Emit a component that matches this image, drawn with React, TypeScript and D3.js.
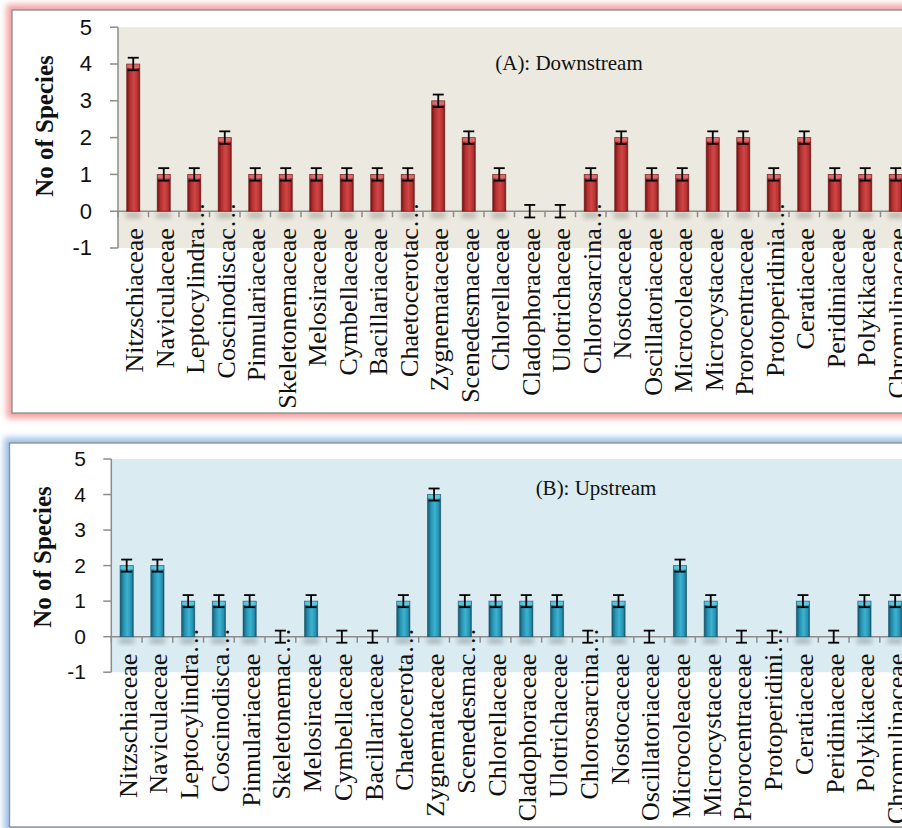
import React from "react";
import * as d3 from "d3";

const categories = [
  "Nitzschiaceae", "Naviculaceae", "Leptocylindraceae", "Coscinodiscaceae", "Pinnulariaceae",
  "Skeletonemaceae", "Melosiraceae", "Cymbellaceae", "Bacillariaceae", "Chaetocerotaceae",
  "Zygnemataceae", "Scenedesmaceae", "Chlorellaceae", "Cladophoraceae", "Ulotrichaceae",
  "Chlorosarcinaceae", "Nostocaceae", "Oscillatoriaceae", "Microcoleaceae", "Microcystaceae",
  "Prorocentraceae", "Protoperidiniaceae", "Ceratiaceae", "Peridiniaceae", "Polykikaceae",
  "Chromulinaceae",
];
const labelsDown = [
  "Nitzschiaceae", "Naviculaceae", "Leptocylindra…", "Coscinodiscac…", "Pinnulariaceae",
  "Skeletonemaceae", "Melosiraceae", "Cymbellaceae", "Bacillariaceae", "Chaetocerotac…",
  "Zygnemataceae", "Scenedesmaceae", "Chlorellaceae", "Cladophoraceae", "Ulotrichaceae",
  "Chlorosarcina…", "Nostocaceae", "Oscillatoriaceae", "Microcoleaceae", "Microcystaceae",
  "Prorocentraceae", "Protoperidinia…", "Ceratiaceae", "Peridiniaceae", "Polykikaceae",
  "Chromulinaceae",
];
const labelsUp = [
  "Nitzschiaceae", "Naviculaceae", "Leptocylindra…", "Coscinodisca…", "Pinnulariaceae",
  "Skeletonemac…", "Melosiraceae", "Cymbellaceae", "Bacillariaceae", "Chaetocerota…",
  "Zygnemataceae", "Scenedesmac…", "Chlorellaceae", "Cladophoraceae", "Ulotrichaceae",
  "Chlorosarcina…", "Nostocaceae", "Oscillatoriaceae", "Microcoleaceae", "Microcystaceae",
  "Prorocentraceae", "Protoperidini…", "Ceratiaceae", "Peridiniaceae", "Polykikaceae",
  "Chromulinaceae",
];
const valuesDown = [4, 1, 1, 2, 1, 1, 1, 1, 1, 1, 3, 2, 1, 0, 0, 1, 2, 1, 1, 2, 2, 1, 2, 1, 1, 1];
const valuesUp = [2, 2, 1, 1, 1, 0, 1, 0, 0, 1, 4, 1, 1, 1, 1, 0, 1, 0, 2, 1, 0, 0, 1, 0, 1, 1];
const errorValue = 0.17;
const yTicks = [-1, 0, 1, 2, 3, 4, 5];
const yTitle = "No of Species";
const titleDown = "(A): Downstream";
const titleUp = "(B): Upstream";

type PanelProps = {
  id: string;
  values: number[];
  labels: string[];
  title: string;
  box: { x: number; y: number; w: number; h: number };
  plot: { x0: number; band: number; yTop: number; yBottom: number };
  bg: string;
  glow: string;
  barDark: string;
  barMid: string;
  barLight: string;
  barTop: string;
  tickLabelRight: number;
  tickFont: number;
  titleX: number;
  titleY: number;
  yTitleX: number;
  yTitleY: number;
};

function Panel(p: PanelProps) {
  const n = categories.length;
  const x = d3
    .scaleBand<string>()
    .domain(categories)
    .range([p.plot.x0, p.plot.x0 + n * p.plot.band])
    .paddingInner(0)
    .paddingOuter(0);
  const y = d3.scaleLinear().domain([-1, 5]).range([p.plot.yBottom, p.plot.yTop]);
  const bw = x.bandwidth();
  const barW = bw * 0.43;
  const y0 = y(0);
  const plotRight = 1000;
  return (
    <g>
      <defs>
        <linearGradient id={`bar-${p.id}`} x1="0" x2="1" y1="0" y2="0">
          <stop offset="0%" stopColor={p.barDark} />
          <stop offset="25%" stopColor={p.barMid} />
          <stop offset="55%" stopColor={p.barLight} />
          <stop offset="85%" stopColor={p.barMid} />
          <stop offset="100%" stopColor={p.barDark} />
        </linearGradient>
        <filter id={`glow-${p.id}`} x="-10%" y="-10%" width="120%" height="120%">
          <feGaussianBlur stdDeviation="3" />
        </filter>
        <filter id={`shadow-${p.id}`} x="-50%" y="-50%" width="200%" height="200%">
          <feGaussianBlur stdDeviation="2.5" />
        </filter>
      </defs>
      {/* glow */}
      <rect
        x={p.box.x}
        y={p.box.y}
        width={p.box.w}
        height={p.box.h}
        fill="none"
        stroke={p.glow}
        strokeWidth={11}
        filter={`url(#glow-${p.id})`}
      />
      <rect
        x={p.box.x}
        y={p.box.y}
        width={p.box.w}
        height={p.box.h}
        fill="#ffffff"
        stroke="#8c8c8c"
        strokeWidth={1.3}
      />
      {/* plot background */}
      <rect
        x={p.plot.x0}
        y={y(5)}
        width={plotRight - p.plot.x0}
        height={y(-1) - y(5)}
        fill={p.bg}
      />
      {/* title */}
      <text
        x={p.titleX}
        y={p.titleY}
        textAnchor="middle"
        fontFamily="'Liberation Serif', 'Times New Roman', serif"
        fontSize={21}
        fill="#111"
      >
        {p.title}
      </text>
      {/* bar shadows */}
      {p.values.map((v, i) =>
        v > 0 ? (
          <rect
            key={`s${i}`}
            x={(x(categories[i]) as number) + bw / 2 - barW / 2 - 1}
            y={y0 + 1}
            width={barW + 2}
            height={6}
            fill="#000"
            opacity={0.22}
            filter={`url(#shadow-${p.id})`}
          />
        ) : null
      )}
      {/* axes */}
      <line x1={p.plot.x0} x2={plotRight} y1={y0} y2={y0} stroke="#8c8c8c" strokeWidth={1.5} />
      <line x1={p.plot.x0} x2={p.plot.x0} y1={y(5)} y2={y(-1)} stroke="#8c8c8c" strokeWidth={1.5} />
      {yTicks.map((t) => (
        <g key={`yt${t}`}>
          <line x1={p.plot.x0 - 8} x2={p.plot.x0} y1={y(t)} y2={y(t)} stroke="#8c8c8c" strokeWidth={1.5} />
          <text
            x={p.tickLabelRight}
            y={y(t)}
            dy="0.34em"
            textAnchor="end"
            fontFamily="'Liberation Sans', Arial, sans-serif"
            fontSize={p.tickFont}
            fill="#111"
          >
            {t}
          </text>
        </g>
      ))}
      {d3.range(n + 1).map((i) => {
        const xx = p.plot.x0 + i * bw;
        return <line key={`xt${i}`} x1={xx} x2={xx} y1={y0} y2={y0 + 6} stroke="#8c8c8c" strokeWidth={1.5} />;
      })}
      {/* bars */}
      {p.values.map((v, i) => {
        const cx = (x(categories[i]) as number) + bw / 2;
        if (v <= 0) return null;
        const top = y(v);
        return (
          <g key={`b${i}`}>
            <rect x={cx - barW / 2} y={top} width={barW} height={y0 - top} fill={`url(#bar-${p.id})`} />
            <rect x={cx - barW / 2} y={top} width={barW} height={4} fill={p.barTop} opacity={0.75} />
            <rect
              x={cx - barW / 2}
              y={top}
              width={barW}
              height={y0 - top}
              fill="none"
              stroke={p.barDark}
              strokeWidth={0.8}
              opacity={0.7}
            />
          </g>
        );
      })}
      {/* error bars */}
      {p.values.map((v, i) => {
        const cx = (x(categories[i]) as number) + bw / 2;
        const hi = y(v + errorValue);
        const lo = y(v - errorValue);
        const cap = 5.5;
        return (
          <g key={`e${i}`} stroke="#000" strokeWidth={1.8}>
            <line x1={cx} x2={cx} y1={hi} y2={lo} />
            <line x1={cx - cap} x2={cx + cap} y1={hi} y2={hi} />
            <line x1={cx - cap} x2={cx + cap} y1={lo} y2={lo} />
          </g>
        );
      })}
      {/* category labels */}
      {p.labels.map((lab, i) => {
        const cx = (x(categories[i]) as number) + bw / 2 + 10;
        const ly = y0 + 17;
        const ell = lab.endsWith("…");
        const main = ell ? lab.slice(0, -1) : lab;
        return (
          <g
            key={`l${i}`}
            transform={`translate(${cx},${ly}) rotate(-90)`}
            fontFamily="'Liberation Serif', 'Times New Roman', serif"
            fontSize={26}
            fill="#111"
          >
            <text x={0} y={0} textAnchor="end">
              {main}
            </text>
            {ell ? (
              <text x={0} y={0} textAnchor="start">
                …
              </text>
            ) : null}
          </g>
        );
      })}
      {/* y title */}
      <text
        transform={`translate(${p.yTitleX},${p.yTitleY}) rotate(-90)`}
        textAnchor="middle"
        fontFamily="'Liberation Serif', 'Times New Roman', serif"
        fontWeight="bold"
        fontSize={25}
        fill="#111"
      >
        {yTitle}
      </text>
    </g>
  );
}

export default function App() {
  return (
    <svg
      width={902}
      height={828}
      style={{ position: "absolute", left: 0, top: 0, background: "#fff" }}
    >
      <Panel
        id="down"
        values={valuesDown}
        labels={labelsDown}
        title={titleDown}
        box={{ x: 12, y: 10, w: 960, h: 403 }}
        plot={{ x0: 118, band: 30.5, yTop: 27.2, yBottom: 248 }}
        bg="#ECEAE0"
        glow="#F2A2A2"
        barDark="#6E1214"
        barMid="#B4302F"
        barLight="#CF4646"
        barTop="#E58080"
        tickLabelRight={92}
        tickFont={22}
        titleX={569}
        titleY={70}
        yTitleX={53}
        yTitleY={126}
      />
      <Panel
        id="up"
        values={valuesUp}
        labels={labelsUp}
        title={titleUp}
        box={{ x: 9.5, y: 443, w: 960, h: 384 }}
        plot={{ x0: 111.3, band: 30.74, yTop: 459, yBottom: 672.2 }}
        bg="#DAEBF2"
        glow="#9CC2E8"
        barDark="#15556A"
        barMid="#2690B0"
        barLight="#3BB3D2"
        barTop="#6FD6EC"
        tickLabelRight={86}
        tickFont={21}
        titleX={596}
        titleY={495}
        yTitleX={51}
        yTitleY={557}
      />
    </svg>
  );
}
